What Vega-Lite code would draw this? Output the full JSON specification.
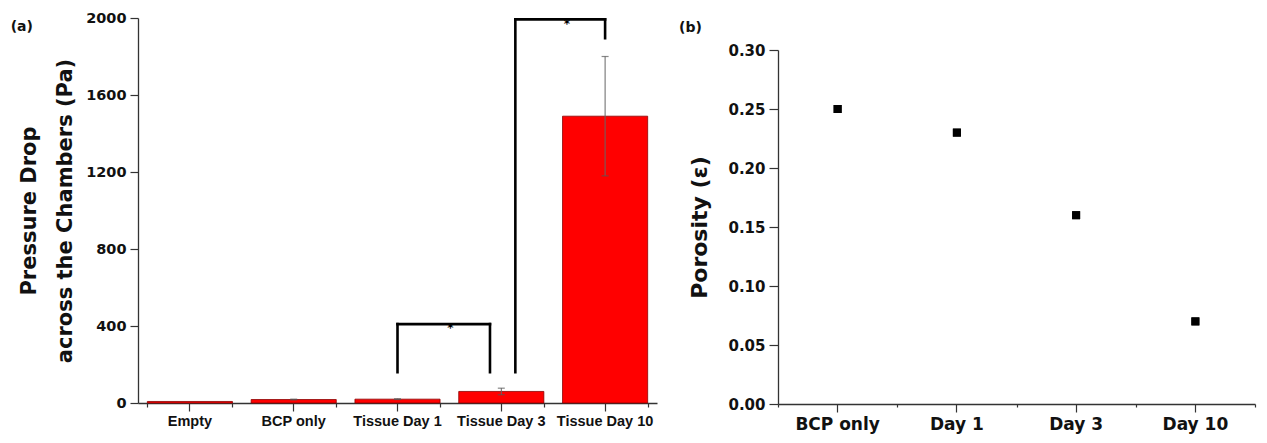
{
  "$schema": "https://vega.github.io/schema/vega-lite/v6.json",
  "background": "white",
  "padding": {"left": 10, "top": 10, "right": 5, "bottom": 5},
  "spacing": 21,
  "config": {
    "view": {"stroke": null},
    "font": "DejaVu Sans",
    "axis": {"grid": false, "domainColor": "#333333", "tickColor": "#333333", "labelColor": "#111111", "titleColor": "#111111", "domainWidth": 1.3, "tickWidth": 1.2}
  },
  "datasets": {
    "pressure": [
      {"group": "Empty", "pressure": 8, "lo": null, "hi": null},
      {"group": "BCP only", "pressure": 18, "lo": 16, "hi": 20},
      {"group": "Tissue Day 1", "pressure": 20, "lo": 18, "hi": 22},
      {"group": "Tissue Day 3", "pressure": 60, "lo": 43, "hi": 77},
      {"group": "Tissue Day 10", "pressure": 1490, "lo": 1180, "hi": 1800}
    ],
    "porosity": [
      {"sample": "BCP only", "porosity": 0.25},
      {"sample": "Day 1", "porosity": 0.23},
      {"sample": "Day 3", "porosity": 0.16},
      {"sample": "Day 10", "porosity": 0.07}
    ]
  },
  "hconcat": [
    {
      "width": 519,
      "height": 385,
      "title": {"text": "(a)", "anchor": "start", "frame": "bounds", "font": "DejaVu Sans", "fontSize": 14, "fontWeight": "bold", "offset": 0, "dy": 24, "dx": -8, "color": "#111111"},
      "resolve": {"axis": {"x": "independent"}},
      "layer": [
        {
          "data": {"name": "pressure"},
          "mark": {"type": "bar", "color": "#ff0000", "stroke": "#8b0000", "strokeWidth": 0.8},
          "encoding": {
            "x": {"field": "group", "type": "nominal", "sort": null,
              "scale": {"domain": ["Empty", "BCP only", "Tissue Day 1", "Tissue Day 3", "Tissue Day 10"], "paddingInner": 0.18, "paddingOuter": 0.09},
              "axis": {"title": null, "labelAngle": 0, "labelFont": "Liberation Sans", "labelFontSize": 14.5, "labelFontWeight": "bold", "tickSize": 8, "labelPadding": 3, "orient": "bottom"}},
            "y": {"field": "pressure", "type": "quantitative",
              "scale": {"domain": [0, 2000], "nice": false},
              "axis": {"title": ["Pressure Drop", "across the Chambers (Pa)"], "titleFont": "DejaVu Sans", "titleFontSize": 21, "titleFontWeight": "bold", "titleLineHeight": 36, "titlePadding": 10,
                "values": [0, 200, 400, 600, 800, 1000, 1200, 1400, 1600, 1800, 2000],
                "labelExpr": "datum.value % 400 === 0 ? format(datum.value, 'd') : ''",
                "labelOverlap": false,
                "labelFont": "DejaVu Sans", "labelFontSize": 14.5, "labelFontWeight": "bold", "labelPadding": 4,
                "tickSize": {"condition": {"test": "datum.value % 400 === 0", "value": 8}, "value": 4}}}
          }
        },
        {
          "data": {"name": "pressure"},
          "mark": {"type": "rule", "color": "#666666", "strokeWidth": 1},
          "encoding": {
            "x": {"field": "group", "type": "nominal", "sort": null,
              "axis": {"orient": "bottom", "tickBand": "extent", "labels": false, "domain": false, "tickSize": 4, "title": null}},
            "y": {"field": "lo", "type": "quantitative"},
            "y2": {"field": "hi"}
          }
        },
        {
          "data": {"name": "pressure"},
          "transform": [{"fold": ["lo", "hi"], "as": ["end", "bound"]}],
          "mark": {"type": "tick", "orient": "horizontal", "size": 7, "thickness": 1.2, "color": "#555555"},
          "encoding": {
            "x": {"field": "group", "type": "nominal", "sort": null, "axis": null},
            "y": {"field": "bound", "type": "quantitative"}
          }
        },
        {
          "data": {"values": [
            {"group": "Tissue Day 1", "low": 160, "high": 410},
            {"group": "Tissue Day 10", "low": 1895, "high": 1993}
          ]},
          "mark": {"type": "rule", "color": "black", "strokeWidth": 2.6, "strokeCap": "square"},
          "encoding": {
            "x": {"field": "group", "type": "nominal", "sort": null, "axis": null, "bandPosition": 0.5},
            "y": {"field": "low", "type": "quantitative"},
            "y2": {"field": "high"}
          }
        },
        {
          "data": {"values": [{"group": "Tissue Day 3", "low": 160, "high": 410}]},
          "mark": {"type": "rule", "color": "black", "strokeWidth": 2.6, "strokeCap": "square"},
          "encoding": {
            "x": {"field": "group", "type": "nominal", "sort": null, "axis": null, "bandPosition": 0.367},
            "y": {"field": "low", "type": "quantitative"},
            "y2": {"field": "high"}
          }
        },
        {
          "data": {"values": [{"group": "Tissue Day 3", "low": 160, "high": 1993}]},
          "mark": {"type": "rule", "color": "black", "strokeWidth": 2.6, "strokeCap": "square"},
          "encoding": {
            "x": {"field": "group", "type": "nominal", "sort": null, "axis": null, "bandPosition": 0.665},
            "y": {"field": "low", "type": "quantitative"},
            "y2": {"field": "high"}
          }
        },
        {
          "data": {"values": [{"from": "Tissue Day 1", "to": "Tissue Day 3", "level": 410}]},
          "mark": {"type": "rule", "color": "black", "strokeWidth": 2.6, "strokeCap": "square"},
          "encoding": {
            "x": {"field": "from", "type": "nominal", "sort": null, "axis": null, "bandPosition": 0.5},
            "x2": {"field": "to", "bandPosition": 0.367},
            "y": {"field": "level", "type": "quantitative"}
          }
        },
        {
          "data": {"values": [{"from": "Tissue Day 3", "to": "Tissue Day 10", "level": 1993}]},
          "mark": {"type": "rule", "color": "black", "strokeWidth": 2.6, "strokeCap": "square"},
          "encoding": {
            "x": {"field": "from", "type": "nominal", "sort": null, "axis": null, "bandPosition": 0.665},
            "x2": {"field": "to", "bandPosition": 0.5},
            "y": {"field": "level", "type": "quantitative"}
          }
        },
        {
          "data": {"values": [{"group": "Tissue Day 1", "level": 418, "sig": "*"}]},
          "mark": {"type": "text", "baseline": "top", "align": "center", "fontSize": 12, "fontWeight": "bold", "color": "black", "fill": "black"},
          "encoding": {
            "x": {"field": "group", "type": "nominal", "sort": null, "axis": null, "bandPosition": 1.12},
            "y": {"field": "level", "type": "quantitative"},
            "text": {"field": "sig"}
          }
        },
        {
          "data": {"values": [{"group": "Tissue Day 10", "level": 1993, "sig": "*"}]},
          "mark": {"type": "text", "baseline": "top", "align": "center", "fontSize": 12, "fontWeight": "bold", "color": "black", "fill": "black"},
          "encoding": {
            "x": {"field": "group", "type": "nominal", "sort": null, "axis": null, "bandPosition": 0.05},
            "y": {"field": "level", "type": "quantitative"},
            "text": {"field": "sig"}
          }
        }
      ]
    },
    {
      "width": 477,
      "height": 386,
      "title": {"text": "(b)", "anchor": "start", "frame": "bounds", "font": "DejaVu Sans", "fontSize": 14, "fontWeight": "bold", "offset": 0, "dy": 17, "dx": -10, "color": "#111111"},
      "data": {"name": "porosity"},
      "resolve": {"axis": {"x": "independent"}},
      "layer": [
        {
          "mark": {"type": "point", "shape": "square", "filled": true, "size": 64, "color": "black", "opacity": 1},
          "encoding": {
            "x": {"field": "sample", "type": "nominal", "sort": null,
              "scale": {"type": "band", "domain": ["BCP only", "Day 1", "Day 3", "Day 10"], "paddingInner": 0, "paddingOuter": 0},
              "axis": {"title": null, "labelAngle": 0, "labelFont": "DejaVu Sans", "labelFontSize": 17, "labelFontWeight": "bold", "tickSize": 8, "labelPadding": 4, "orient": "bottom"}},
            "y": {"field": "porosity", "type": "quantitative",
              "scale": {"domain": [0, 0.3], "nice": false, "range": [386, 32]},
              "axis": {"title": "Porosity (ε)", "titleFont": "DejaVu Sans", "titleFontSize": 22, "titleFontWeight": "bold", "titlePadding": 16,
                "values": [0, 0.025, 0.05, 0.075, 0.1, 0.125, 0.15, 0.175, 0.2, 0.225, 0.25, 0.275, 0.3],
                "labelExpr": "abs(datum.value * 20 - round(datum.value * 20)) < 0.001 ? format(datum.value, '.2f') : ''",
                "labelOverlap": false,
                "labelFont": "DejaVu Sans", "labelFontSize": 15, "labelFontWeight": "bold", "labelPadding": 4,
                "tickSize": {"condition": {"test": "abs(datum.value * 20 - round(datum.value * 20)) < 0.001", "value": 9}, "value": 4}}}
          }
        },
        {
          "mark": {"type": "point", "shape": "square", "filled": true, "size": 64, "color": "black", "opacity": 1},
          "encoding": {
            "x": {"field": "sample", "type": "nominal", "sort": null,
              "axis": {"orient": "bottom", "tickBand": "extent", "labels": false, "domain": false, "tickSize": 3, "title": null}},
            "y": {"field": "porosity", "type": "quantitative"}
          }
        }
      ]
    }
  ]
}
